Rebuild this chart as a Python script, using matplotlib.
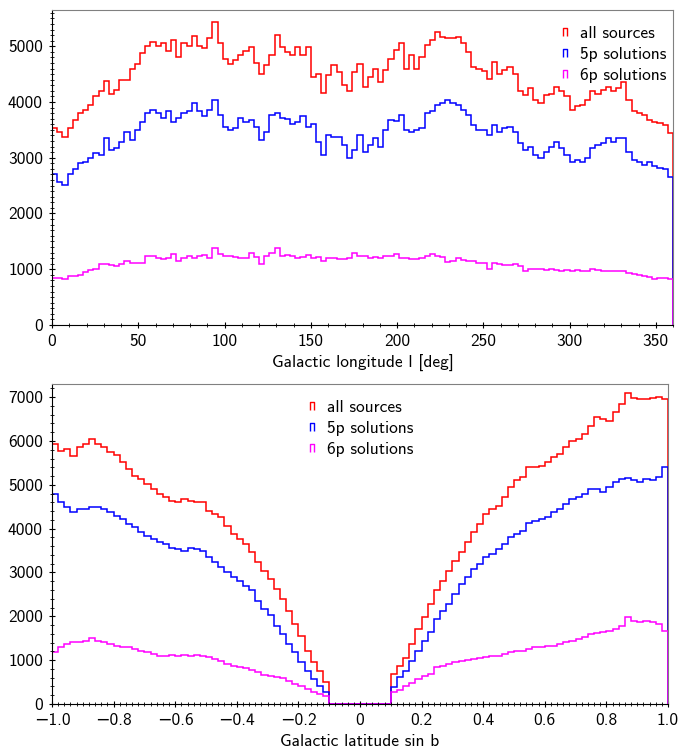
import numpy as np
import matplotlib
matplotlib.use('Agg')
import matplotlib.pyplot as plt
from matplotlib.path import Path
from matplotlib.lines import Line2D
from matplotlib.ticker import MultipleLocator, FuncFormatter

plt.rcParams['font.family'] = ['cmss10', 'DejaVu Sans']
plt.rcParams['font.size'] = 12

# ---- top panel: galactic longitude, 3 deg bins ----
lon_edges = np.arange(0, 361, 3)
lon_all = [3530, 3470, 3380, 3530, 3680, 3800, 3860, 3950, 4100, 4200,
           4380, 4150, 4210, 4390, 4400, 4600, 4680, 4870, 5000, 5080,
           5000, 5050, 4920, 5120, 4810, 5050, 5000, 5190, 5000, 4960,
           5140, 5430, 5050, 4780, 4690, 4750, 4850, 4920, 4990, 4700,
           4510, 4660, 4840, 5200, 4980, 4900, 4840, 4990, 4840, 4990,
           4450, 4510, 4160, 4480, 4660, 4540, 4300, 4190, 4540, 4690,
           4270, 4450, 4600, 4360, 4570, 4780, 4930, 5050, 4600, 4840,
           4600, 4810, 5020, 5110, 5250, 5170, 5150, 5140, 5170, 5050,
           4900, 4630, 4600, 4550, 4420, 4720, 4510, 4570, 4630, 4510,
           4200, 4130, 4250, 4040, 3980, 4130, 4150, 4270, 4200, 4100,
           3860, 3920, 3950, 4040, 4190, 4150, 4210, 4270, 4190, 4250,
           4360, 4040, 3830, 3800, 3770, 3680, 3650, 3620, 3590, 3450]
lon_5p = [2700, 2560, 2520, 2700, 2790, 2900, 2930, 2990, 3080, 3050,
          3350, 3140, 3170, 3290, 3470, 3320, 3500, 3650, 3800, 3860,
          3800, 3710, 3830, 3650, 3720, 3800, 3830, 3980, 3830, 3740,
          3860, 4040, 3770, 3560, 3500, 3530, 3710, 3650, 3680, 3550,
          3320, 3470, 3770, 3800, 3710, 3700, 3600, 3650, 3740, 3560,
          3600, 3290, 3050, 3410, 3380, 3380, 3230, 2990, 3140, 3410,
          3110, 3230, 3350, 3200, 3500, 3680, 3660, 3770, 3500, 3470,
          3500, 3530, 3800, 3830, 3950, 3980, 4040, 3990, 3950, 3860,
          3770, 3590, 3500, 3500, 3410, 3590, 3470, 3530, 3560, 3470,
          3260, 3140, 3200, 3050, 2990, 3110, 3200, 3290, 3170, 3050,
          2930, 2960, 2930, 3000, 3170, 3230, 3260, 3350, 3290, 3350,
          3350, 3110, 2960, 2930, 2870, 2930, 2850, 2810, 2790, 2650]
lon_6p = [850, 840, 820, 880, 880, 890, 950, 980, 1000, 1090,
          1090, 1080, 1060, 1090, 1150, 1120, 1110, 1120, 1240, 1240,
          1200, 1180, 1210, 1270, 1150, 1200, 1240, 1210, 1240, 1260,
          1210, 1390, 1270, 1230, 1240, 1220, 1210, 1200, 1300, 1220,
          1090, 1240, 1290, 1390, 1240, 1250, 1230, 1210, 1220, 1260,
          1210, 1220, 1150, 1210, 1210, 1190, 1190, 1210, 1300, 1230,
          1240, 1210, 1220, 1200, 1230, 1240, 1280, 1210, 1200, 1190,
          1190, 1210, 1230, 1270, 1240, 1220, 1130, 1150, 1210, 1170,
          1150, 1140, 1120, 1110, 1000, 1120, 1090, 1080, 1070, 1090,
          1060, 970, 1000, 1000, 1000, 990, 1000, 980, 970, 980,
          970, 980, 970, 960, 1000, 980, 970, 960, 970, 960,
          960, 940, 910, 900, 880, 860, 820, 850, 850, 830]

# ---- bottom panel: sin b, 0.02 bins, empty for |sin b| < 0.1 ----
sinb_edges = np.linspace(-1, 1, 101)
south_all = [5930, 5780, 5820, 5650, 5860, 5930, 6050, 5930, 5860, 5740,
             5670, 5510, 5360, 5210, 5130, 5020, 4900, 4790, 4720, 4640,
             4600, 4680, 4640, 4600, 4600, 4410, 4330, 4260, 4070, 3880,
             3760, 3650, 3460, 3230, 3040, 2850, 2620, 2400, 2130, 1830,
             1560, 1220, 950, 760, 500]
south_5p = [4800, 4600, 4490, 4370, 4450, 4450, 4490, 4490, 4450, 4370,
            4300, 4220, 4110, 4030, 3920, 3840, 3760, 3690, 3650, 3570,
            3540, 3500, 3560, 3540, 3500, 3350, 3230, 3120, 3000, 2890,
            2810, 2700, 2590, 2360, 2170, 2020, 1790, 1600, 1370, 1180,
            950, 760, 570, 420, 270]
south_6p = [1180, 1290, 1370, 1410, 1410, 1440, 1500, 1440, 1410, 1370,
            1330, 1290, 1290, 1250, 1220, 1180, 1140, 1100, 1100, 1120,
            1100, 1120, 1100, 1120, 1100, 1080, 1030, 990, 910, 870,
            840, 820, 780, 720, 670, 650, 620, 590, 530, 460,
            420, 340, 270, 230, 190]
gap = [0] * 10
north_all = [680, 870, 1060, 1370, 1710, 1980, 2280, 2590, 2810, 3040,
             3270, 3460, 3690, 3920, 4110, 4330, 4450, 4520, 4720, 4940,
             5100, 5170, 5400, 5400, 5440, 5510, 5630, 5700, 5860, 6010,
             6050, 6160, 6350, 6540, 6500, 6460, 6650, 6840, 7100, 6990,
             6960, 6960, 6980, 7000, 6950]
north_5p = [380, 610, 760, 990, 1220, 1440, 1640, 1940, 2130, 2280,
            2510, 2740, 2890, 3080, 3190, 3350, 3420, 3540, 3650, 3800,
            3880, 3950, 4140, 4180, 4220, 4260, 4370, 4450, 4560, 4680,
            4720, 4790, 4900, 4900, 4830, 4940, 5060, 5130, 5160, 5100,
            5060, 5130, 5100, 5170, 5400]
north_6p = [270, 320, 420, 490, 570, 650, 680, 840, 870, 910,
            950, 990, 1000, 1030, 1060, 1080, 1100, 1100, 1140, 1180,
            1200, 1220, 1250, 1290, 1290, 1320, 1330, 1370, 1410, 1440,
            1480, 1520, 1600, 1610, 1640, 1670, 1710, 1790, 1980, 1900,
            1860, 1900, 1860, 1830, 1670]

labels = ['all sources', '5p solutions', '6p solutions']
colors = ['#ff0000', '#0000ff', '#ff00ff']

# little open-bottom box used as legend symbol
box = Path([(-0.5, -1), (-0.5, 1), (0.5, 1), (0.5, -1)],
           [Path.MOVETO, Path.LINETO, Path.LINETO, Path.LINETO])


def style(ax):
    for s in ['top', 'right']:
        ax.spines[s].set_color('#808080')
    ax.tick_params(which='both', direction='inout', top=False, right=False,
                   labelsize=12.5, pad=4)
    ax.tick_params(which='major', length=5, width=0.8)
    ax.tick_params(which='minor', length=3, width=0.6)


def legend(ax, **kw):
    handles = [Line2D([], [], marker=box, ls='none', mfc='none', mec=c,
                      ms=6, mew=1) for c in colors]
    ax.legend(handles, labels, frameon=False, fontsize=12.5, handlelength=0.6,
              handletextpad=0.6, labelspacing=0.35, **kw)


fig = plt.figure(figsize=(6.81, 7.49), dpi=100)
ax1 = fig.add_axes([52 / 681, 1 - 325 / 749, 621 / 681, 315 / 749])
ax2 = fig.add_axes([52 / 681, 1 - 704 / 749, 616 / 681, 320 / 749])

for vals, c in zip([lon_all, lon_5p, lon_6p], colors):
    ax1.stairs(vals, lon_edges, color=c, lw=1.1, baseline=0)
ax1.set_xlim(0, 360)
ax1.set_ylim(0, 5650)
ax1.xaxis.set_major_locator(MultipleLocator(50))
ax1.xaxis.set_minor_locator(MultipleLocator(10))
ax1.yaxis.set_major_locator(MultipleLocator(1000))
ax1.yaxis.set_minor_locator(MultipleLocator(100))
ax1.set_xlabel('Galactic longitude l [deg]', fontsize=12.5)
style(ax1)
legend(ax1, loc='upper right', bbox_to_anchor=(1.015, 1.0))

for s, n, c in zip([south_all, south_5p, south_6p],
                   [north_all, north_5p, north_6p], colors):
    ax2.stairs(s + gap + n, sinb_edges, color=c, lw=1.1, baseline=0)
ax2.set_xlim(-1, 1)
ax2.set_ylim(0, 7300)
ax2.xaxis.set_major_locator(MultipleLocator(0.2))
ax2.xaxis.set_minor_locator(MultipleLocator(0.02))
ax2.yaxis.set_major_locator(MultipleLocator(1000))
ax2.yaxis.set_minor_locator(MultipleLocator(200))
ax2.xaxis.set_major_formatter(FuncFormatter(
    lambda v, p: '0' if abs(v) < 1e-9 else f'{v:.1f}'.replace('-', '\u2212')))
ax2.set_xlabel('Galactic latitude sin b', fontsize=12.5)
style(ax2)
legend(ax2, loc='upper center', bbox_to_anchor=(0.5, 1.0))

fig.savefig('out.png', dpi=100)
